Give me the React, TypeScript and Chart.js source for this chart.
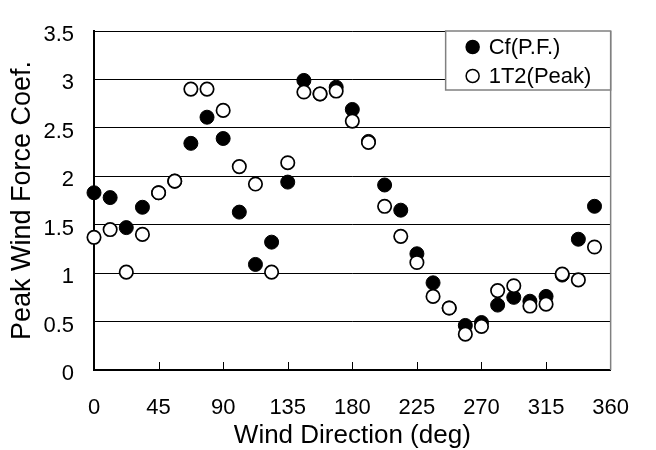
import React, { useEffect, useRef } from "react";
import { Chart, registerables } from "chart.js";

Chart.register(...registerables);

const directions = [
  0, 11.25, 22.5, 33.75, 45, 56.25, 67.5, 78.75, 90, 101.25, 112.5, 123.75, 135, 146.25, 157.5, 168.75,
  180, 191.25, 202.5, 213.75, 225, 236.25, 247.5, 258.75, 270, 281.25, 292.5, 303.75, 315, 326.25, 337.5, 348.75,
];
const cfValues = [
  1.83, 1.78, 1.47, 1.68, 1.83, 1.95, 2.34, 2.61, 2.39, 1.63, 1.09, 1.32, 1.94, 2.99, 2.85, 2.92,
  2.69, 2.36, 1.91, 1.65, 1.2, 0.9, 0.64, 0.46, 0.49, 0.67, 0.75, 0.71, 0.76, 0.98, 1.35, 1.69,
];
const t2Values = [
  1.37, 1.45, 1.01, 1.4, 1.83, 1.95, 2.9, 2.9, 2.68, 2.1, 1.92, 1.01, 2.14, 2.87, 2.85, 2.88,
  2.57, 2.35, 1.69, 1.38, 1.11, 0.76, 0.64, 0.37, 0.45, 0.82, 0.87, 0.66, 0.68, 0.99, 0.93, 1.27,
];
const seriesLabels = ["Cf(P.F.)", "1T2(Peak)"];
const xMin = 0;
const xMax = 360;
const xStep = 45;
const yMin = 0;
const yMax = 3.5;
const yStep = 0.5;

const FONT = "'Liberation Sans', Arial, sans-serif";

const framePlugin = {
  id: "framePlugin",
  beforeDatasetsDraw(chart: any) {
    const { ctx, chartArea: a, scales } = chart;
    const x = scales.x;
    ctx.save();
    // inner tick marks on the x axis
    ctx.strokeStyle = "#000";
    ctx.lineWidth = 1;
    x.ticks.forEach((t: any) => {
      if (t.value <= x.min || t.value >= x.max) return;
      const px = Math.round(x.getPixelForValue(t.value)) + 0.5;
      ctx.beginPath();
      ctx.moveTo(px, a.bottom);
      ctx.lineTo(px, a.bottom - 8);
      ctx.stroke();
    });
    // right frame
    ctx.strokeStyle = "#808080";
    ctx.lineWidth = 1.5;
    ctx.beginPath();
    ctx.moveTo(a.right, a.top);
    ctx.lineTo(a.right, a.bottom);
    ctx.stroke();
    ctx.restore();
  },
};

const legendPlugin = {
  id: "boxLegend",
  afterDatasetsDraw(chart: any) {
    const { ctx, chartArea: a } = chart;
    const w = 165;
    const h = 59;
    const x0 = a.right - w;
    const y0 = a.top;
    ctx.save();
    ctx.fillStyle = "#fff";
    ctx.fillRect(x0, y0, w, h);
    ctx.strokeStyle = "#808080";
    ctx.lineWidth = 1.5;
    ctx.strokeRect(x0, y0, w, h);
    const rows = [
      { ds: chart.data.datasets[0], y: y0 + 16 },
      { ds: chart.data.datasets[1], y: y0 + 45 },
    ];
    rows.forEach(({ ds, y }) => {
      ctx.beginPath();
      ctx.arc(x0 + 27, y, 6.5, 0, Math.PI * 2);
      ctx.fillStyle = ds.pointBackgroundColor;
      ctx.fill();
      ctx.lineWidth = 1.5;
      ctx.strokeStyle = ds.pointBorderColor;
      ctx.stroke();
      ctx.fillStyle = "#000";
      ctx.font = `22px ${FONT}`;
      ctx.textBaseline = "middle";
      ctx.textAlign = "left";
      ctx.fillText(ds.label, x0 + 43, y + 1);
    });
    ctx.restore();
  },
};

export default function App() {
  const ref = useRef<HTMLCanvasElement>(null);
  useEffect(() => {
    document.body.style.margin = "0";
    const chart = new Chart(ref.current as HTMLCanvasElement, {
      type: "scatter",
      data: {
        datasets: [
          {
            label: seriesLabels[0],
            data: directions.map((d, i) => ({ x: d, y: cfValues[i] })),
            pointRadius: 7,
            pointBorderWidth: 1,
            pointBackgroundColor: "#000",
            pointBorderColor: "#000",
            pointHoverRadius: 7,
            order: 1,
            clip: false,
          } as any,
          {
            label: seriesLabels[1],
            data: directions.map((d, i) => ({ x: d, y: t2Values[i] })),
            pointRadius: 6.7,
            pointBorderWidth: 1.7,
            pointBackgroundColor: "#fff",
            pointBorderColor: "#000",
            pointHoverRadius: 6.7,
            order: 0,
            clip: false,
          } as any,
        ],
      },
      options: {
        responsive: false,
        animation: false,
        events: [],
        layout: { padding: { left: 0, top: 17, right: 38, bottom: 0 } },
        plugins: { legend: { display: false }, tooltip: { enabled: false } },
        scales: {
          x: {
            type: "linear",
            min: xMin,
            max: xMax,
            afterFit: (s: any) => {
              s.height = 80;
            },
            ticks: {
              stepSize: xStep,
              padding: 27,
              color: "#000",
              font: { family: FONT, size: 22, lineHeight: 1 },
              maxRotation: 0,
              callback: (v: any) => String(v),
            },
            grid: { display: false, drawTicks: false },
            border: { display: true, color: "#000", width: 2 },
            title: {
              display: true,
              text: "Wind Direction (deg)",
              color: "#000",
              font: { family: FONT, size: 26, lineHeight: 1 },
              padding: { top: 0, bottom: 1 },
            },
          },
          y: {
            type: "linear",
            min: yMin,
            max: yMax,
            afterFit: (s: any) => {
              s.width = 94;
            },
            ticks: {
              stepSize: yStep,
              padding: 20,
              labelOffset: 4,
              color: "#000",
              font: { family: FONT, size: 22, lineHeight: 1 },
              callback: (v: any) => String(v),
            },
            grid: { color: "#000", lineWidth: 1, drawTicks: false },
            border: { display: true, color: "#000", width: 2 },
            title: {
              display: true,
              text: "Peak Wind Force Coef.",
              color: "#000",
              font: { family: FONT, size: 27, lineHeight: 1 },
              padding: { top: 9.5, bottom: 0 },
            },
          },
        },
      },
      plugins: [framePlugin, legendPlugin],
    });
    return () => chart.destroy();
  }, []);
  return (
    <div style={{ position: "absolute", left: 0, top: 0, width: 656, height: 450, background: "#fff" }}>
      <canvas ref={ref} width={656} height={450} />
    </div>
  );
}
